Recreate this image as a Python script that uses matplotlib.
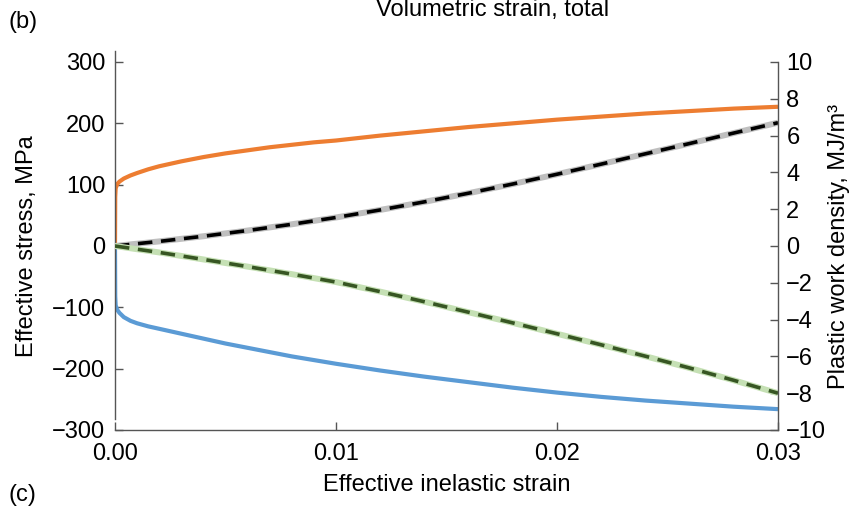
import matplotlib
matplotlib.use('agg')
import matplotlib.pyplot as plt

plt.rcParams['font.family'] = ['Liberation Sans', 'DejaVu Sans']
plt.rcParams['font.size'] = 17

# effective stress (MPa) vs effective inelastic strain
stress_strain = [0, 0.00001, 0.00003, 0.0001, 0.0002, 0.0004, 0.0007, 0.001, 0.0015,
                 0.002, 0.003, 0.004, 0.005, 0.006, 0.007, 0.008, 0.009, 0.01, 0.012,
                 0.014, 0.016, 0.018, 0.02, 0.022, 0.024, 0.026, 0.028, 0.03]
stress_pos = [0, 80, 94, 101, 105, 110, 115, 119, 125, 130, 138, 145, 151, 156, 161,
              165, 169, 172, 180, 187, 194, 200, 206, 211, 216, 220, 224, 227]
stress_neg = [0, -82, -97, -104, -109, -116, -122, -126, -131, -135, -143, -151, -159,
              -166, -173, -180, -186, -192, -203, -213, -222, -231, -239, -246, -252,
              -257, -262, -266]

# plastic work density (MJ/m3)
work_strain = [0, 0.002, 0.004, 0.006, 0.008, 0.01, 0.012, 0.014, 0.016, 0.018, 0.02,
               0.022, 0.024, 0.026, 0.028, 0.03]
work_pos = [0, 0.25, 0.53, 0.84, 1.18, 1.55, 1.96, 2.4, 2.87, 3.37, 3.9, 4.45, 5.01,
            5.57, 6.14, 6.7]
work_neg = [0, -0.35, -0.73, -1.12, -1.53, -1.96, -2.48, -3.03, -3.6, -4.18, -4.77,
            -5.37, -5.99, -6.63, -7.3, -8.0]

x_ticks = [0.0, 0.01, 0.02, 0.03]
stress_ticks = [-300, -200, -100, 0, 100, 200, 300]
work_ticks = [-10, -8, -6, -4, -2, 0, 2, 4, 6, 8, 10]

spine_col = '#555555'

fig = plt.figure(figsize=(8.59, 5.12), dpi=100)
ax = fig.add_axes([115 / 859, 1 - 430 / 512, (778 - 115) / 859, (430 - 62) / 512])
ax2 = ax.twinx()

ax.plot(stress_strain, stress_pos, color='#ED7D31', lw=3, solid_capstyle='butt')
ax.plot(stress_strain, stress_neg, color='#5B9BD5', lw=3, solid_capstyle='butt')

ax2.plot(work_strain, work_pos, color='#BFBFBF', lw=4.3, solid_capstyle='butt')
ax2.plot(work_strain, work_pos, color='black', lw=2.6, dashes=(4, 2.4))
ax2.plot(work_strain, work_neg, color='#C5E0B4', lw=4.3, solid_capstyle='butt')
ax2.plot(work_strain, work_neg, color='#375623', lw=2.6, dashes=(4, 2.4))

ax.set_xlim(0, 0.03)
ax.set_ylim(-300, 300)
ax2.set_ylim(-10, 10)

ax.set_xticks(x_ticks)
ax.set_xticklabels(['%.2f' % v for v in x_ticks])
ax.set_yticks(stress_ticks)
ax.set_yticklabels([str(v).replace('-', '\u2212') for v in stress_ticks])
ax2.set_yticks(work_ticks)
ax2.set_yticklabels([str(v).replace('-', '\u2212') for v in work_ticks])

for a in (ax, ax2):
    for s in a.spines.values():
        s.set_color(spine_col)
        s.set_linewidth(1.0)
    a.spines['top'].set_visible(False)
ax.spines['right'].set_visible(False)
ax2.spines['left'].set_visible(False)
ax2.spines['bottom'].set_visible(False)
ax.spines['left'].set_bounds(-282, 318)

ax.tick_params(axis='x', direction='in', length=6, width=1, color=spine_col, pad=9)
ax.tick_params(axis='y', direction='in', length=6, width=1, color=spine_col, pad=7)
ax2.tick_params(axis='y', direction='in', length=6, width=1, color=spine_col, pad=6)

ax.set_xlabel('Effective inelastic strain', labelpad=7)
ax.set_ylabel('Effective stress, MPa', labelpad=10)
ax2.set_ylabel('Plastic work density, MJ/m\u00b3', labelpad=1)

fig.text(493 / 859, 1 - 16 / 512, 'Volumetric strain, total', ha='center', va='baseline')
fig.text(8 / 859, 1 - 22 / 512, '(b)', ha='left', va='center')
fig.text(8 / 859, 1 - 495 / 512, '(c)', ha='left', va='center')

fig.savefig('out.png', dpi=100)
